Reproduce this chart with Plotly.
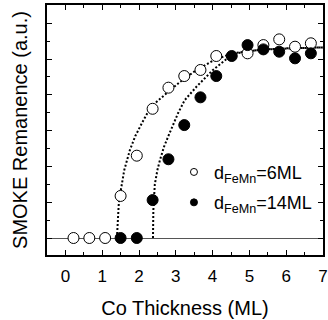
import plotly.graph_objects as go

# Measured data (Co thickness in ML, remanence in a.u.)
open_x = [0.22, 0.65, 1.08, 1.50, 1.94, 2.37, 2.80, 3.23, 3.67, 4.10, 4.95, 5.38, 5.81, 6.24, 6.67]
open_y = [0.0, 0.0, 0.0, 0.235, 0.46, 0.722, 0.84, 0.905, 0.939, 1.017, 1.032, 1.078, 1.11, 1.069, 1.088]

filled_x = [1.50, 1.94, 2.37, 2.80, 3.23, 3.67, 4.10, 4.52, 4.95, 5.38, 5.81, 6.24, 6.67]
filled_y = [0.0, 0.0, 0.212, 0.44, 0.631, 0.786, 0.905, 1.017, 1.078, 1.054, 1.041, 1.004, 1.032]

# Dotted fit curves
fit6_x = [1.40, 1.42, 1.45, 1.50, 1.60, 1.75, 1.90, 2.10, 2.30, 2.50, 2.80, 3.10, 3.50, 4.00, 4.50, 5.00, 5.50, 6.00, 6.50, 7.00]
fit6_y = [0.0, 0.08, 0.19, 0.26, 0.38, 0.49, 0.57, 0.65, 0.725, 0.765, 0.82, 0.87, 0.93, 0.99, 1.03, 1.045, 1.055, 1.06, 1.062, 1.065]

fit14_x = [2.38, 2.385, 2.39, 2.43, 2.50, 2.57, 2.68, 2.79, 2.92, 3.06, 3.24, 3.56, 4.01, 4.46, 4.80, 5.20, 5.60, 6.00, 6.50, 7.00]
fit14_y = [0.0, 0.08, 0.156, 0.30, 0.38, 0.436, 0.51, 0.566, 0.63, 0.697, 0.77, 0.845, 0.939, 1.014, 1.04, 1.05, 1.055, 1.06, 1.062, 1.065]

x_ticks = [0, 1, 2, 3, 4, 5, 6, 7]
x_ticklabels = ["0", "1", "2", "3", "4", "5", "6", "7"]

label6 = "d<sub>FeMn</sub>=6ML"
label14 = "d<sub>FeMn</sub>=14ML"
x_title = "Co Thickness (ML)"
y_title = "SMOKE Remanence (a.u.)"

FONT = "Liberation Sans, Arial, sans-serif"

fig = go.Figure()
dot_line = dict(color="black", width=2, dash="2px,2px")
fig.add_trace(go.Scatter(x=fit6_x, y=fit6_y, mode="lines", line=dot_line, showlegend=False))
fig.add_trace(go.Scatter(x=fit14_x, y=fit14_y, mode="lines", line=dot_line, showlegend=False))
fig.add_trace(go.Scatter(x=open_x, y=open_y, mode="markers", showlegend=False,
                         marker=dict(symbol="circle", size=11, color="white",
                                     line=dict(color="black", width=1))))
fig.add_trace(go.Scatter(x=filled_x, y=filled_y, mode="markers", showlegend=False,
                         marker=dict(symbol="circle", size=11, color="black",
                                     line=dict(color="black", width=1))))
# legend entries (small symbols)
fig.add_trace(go.Scatter(x=[None], y=[None], mode="markers", name=label6, legendgroup="a",
                         marker=dict(symbol="circle", size=7, color="white",
                                     line=dict(color="black", width=1))))
fig.add_trace(go.Scatter(x=[None], y=[None], mode="markers", name=label14, legendgroup="b",
                         marker=dict(symbol="circle", size=7, color="black",
                                     line=dict(color="black", width=1))))

fig.update_layout(
    width=328, height=320,
    margin=dict(l=47, r=5, t=5, b=65),
    paper_bgcolor="white", plot_bgcolor="white",
    font=dict(family=FONT, color="black"),
    legend=dict(x=0.46, y=0.405, xanchor="left", yanchor="top",
                bgcolor="rgba(0,0,0,0)", font=dict(size=18, family=FONT),
                tracegroupgap=4),
    xaxis=dict(range=[-0.5, 7.0], tickmode="array", tickvals=x_ticks, ticktext=x_ticklabels,
               ticks="inside", ticklen=5, tickwidth=1, tickcolor="black",
               minor=dict(dtick=0.5, tick0=0, ticks="inside", ticklen=3, tickcolor="black"),
               showline=True, linecolor="black", linewidth=1.5, mirror="ticks",
               showgrid=False, zeroline=False, automargin=False,
               ticklabelstandoff=5,
               tickfont=dict(size=17, family=FONT),
               title=dict(text=x_title, font=dict(size=20, family=FONT), standoff=16)),
    yaxis=dict(range=[-0.095, 1.302], tick0=0, dtick=0.2, ticks="inside", ticklen=5,
               tickwidth=1, tickcolor="black",
               minor=dict(dtick=0.1, ticks="inside", ticklen=3, tickcolor="black"),
               showline=True, linecolor="black", linewidth=1.5, mirror="ticks",
               showgrid=False, showticklabels=False, automargin=False,
               zeroline=True, zerolinecolor="#555555", zerolinewidth=1,
               title=dict(text=y_title, font=dict(size=20, family=FONT), standoff=12)),
)

fig.write_html("out.html", config={"displayModeBar": False},
               post_script="document.body.style.margin='0';document.body.style.overflow='hidden';")
